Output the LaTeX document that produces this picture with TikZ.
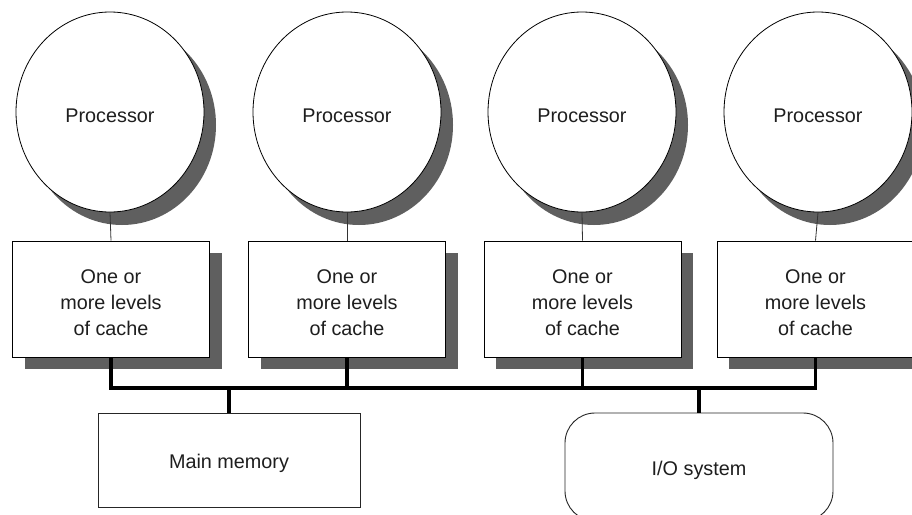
\documentclass[tikz,border=0pt]{standalone}
\usepackage{fontspec}
\setmainfont{Liberation Sans}
\usetikzlibrary{shapes.geometric,shadows}
\definecolor{shcol}{RGB}{95,95,95}
\definecolor{txtcol}{RGB}{30,30,30}
\tikzset{
  txt/.style={label={[label distance=0pt, yshift=-3.5pt, align=center, text=txtcol, inner sep=0pt]center:#1}},
  proc/.style={ellipse, draw=black, line width=0.8pt, fill=white, inner sep=0pt,
    minimum width=188pt, minimum height=200pt,
    general shadow={shadow xshift=12pt, shadow yshift=-13pt, fill=shcol}},
  cache/.style={rectangle, draw=black, line width=0.9pt, fill=white, inner sep=0pt,
    minimum width=197pt, minimum height=116pt,
    general shadow={shadow xshift=12pt, shadow yshift=-12pt, fill=shcol}},
  membox/.style={rectangle, draw=black!85, line width=0.9pt, fill=white, inner sep=0pt,
    minimum width=262pt, minimum height=94pt},
  iobox/.style={rectangle, rounded corners=30pt, draw=black!85, line width=0.9pt, fill=white, inner sep=0pt,
    minimum width=268pt, minimum height=108pt},
  thin/.style={draw=black!80, line width=0.8pt},
  bus/.style={draw=black, line width=3.6pt, line join=miter},
}
\begin{document}
\begin{tikzpicture}[x=1pt,y=-1pt, font=\fontsize{19.8}{26}\selectfont]
\useasboundingbox (0,0) rectangle (912,514);
\clip (0,0) rectangle (912,514);
\fill[white] (0,0) rectangle (912,514);

\node[proc, txt={Processor}] (p1) at (110,112) {};
\node[proc, txt={Processor}] (p2) at (347,112) {};
\node[proc, txt={Processor}] (p3) at (582,112) {};
\node[proc, txt={Processor}] (p4) at (818,112) {};

\node[cache, txt={One or\\more levels\\of cache}] (c1) at (111,299) {};
\node[cache, txt={One or\\more levels\\of cache}] (c2) at (347,299) {};
\node[cache, txt={One or\\more levels\\of cache}] (c3) at (582.5,299) {};
\node[cache, txt={One or\\more levels\\of cache}] (c4) at (815.5,299) {};

\draw[thin] (p1.south) -- (c1.north);
\draw[thin] (p2.south) -- (c2.north);
\draw[thin] (p3.south) -- (c3.north);
\draw[thin] (p4.south) -- (c4.north);

\node[membox, txt={Main memory}] (mm) at (229,460) {};
\node[iobox, txt={I/O system}] (io) at (699,467) {};

\coordinate (busy) at (0,388);
\draw[bus] (c1.south) |- (busy -| c4.south) -- (c4.south);
\draw[bus] (c2.south) -- (c2.south |- busy);
\draw[bus] (c3.south) -- (c3.south |- busy);
\draw[bus] (mm.north) -- (mm.north |- busy);
\draw[bus] (io.north) -- (io.north |- busy);
\end{tikzpicture}
\end{document}
